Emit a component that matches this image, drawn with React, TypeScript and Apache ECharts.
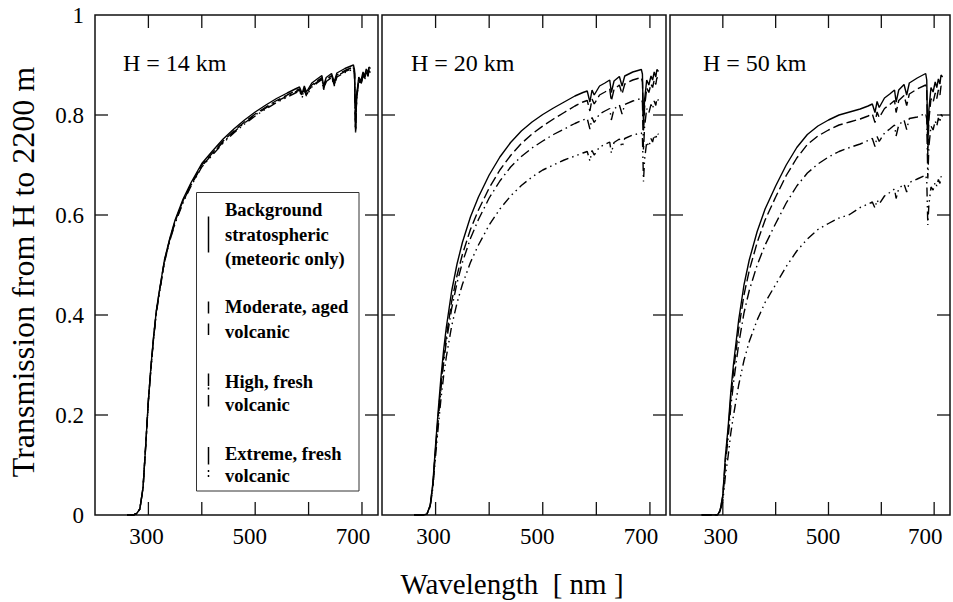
import React, { useEffect, useRef } from "react";
import * as echarts from "echarts";

// Wavelength grid (nm) shared by every curve
const WAVELENGTH = [260, 272, 278, 284, 290, 295, 300, 305, 310, 315, 320, 330, 340, 350, 365, 380, 400, 420, 440, 460, 480, 500, 520, 540, 560, 575, 583, 588, 592, 596, 606, 616, 625, 628, 633, 643, 648, 653, 668, 684, 686, 688, 690, 694, 698, 702, 705, 708, 711, 713, 716];

// H = 14 km
const BG_14 = [0, 0, 0.003, 0.012, 0.055, 0.14, 0.23, 0.3, 0.36, 0.41, 0.445, 0.51, 0.553, 0.59, 0.632, 0.665, 0.703, 0.728, 0.752, 0.772, 0.79, 0.806, 0.82, 0.833, 0.844, 0.852, 0.856, 0.843, 0.858, 0.846, 0.864, 0.872, 0.879, 0.858, 0.875, 0.883, 0.866, 0.884, 0.893, 0.9, 0.89, 0.772, 0.84, 0.876, 0.868, 0.886, 0.878, 0.892, 0.884, 0.896, 0.893];
const MOD_14 = [0, 0, 0.003, 0.012, 0.055, 0.14, 0.229, 0.298, 0.358, 0.408, 0.443, 0.508, 0.551, 0.587, 0.629, 0.662, 0.7, 0.724, 0.748, 0.768, 0.786, 0.802, 0.816, 0.829, 0.84, 0.848, 0.852, 0.839, 0.854, 0.842, 0.86, 0.868, 0.875, 0.854, 0.871, 0.879, 0.862, 0.88, 0.889, 0.896, 0.886, 0.769, 0.836, 0.872, 0.864, 0.882, 0.874, 0.888, 0.88, 0.892, 0.889];
const HIGH_14 = [0, 0, 0.003, 0.012, 0.055, 0.139, 0.229, 0.297, 0.357, 0.407, 0.442, 0.507, 0.55, 0.585, 0.627, 0.66, 0.698, 0.722, 0.746, 0.766, 0.784, 0.8, 0.814, 0.827, 0.838, 0.846, 0.85, 0.837, 0.852, 0.84, 0.858, 0.866, 0.873, 0.852, 0.869, 0.877, 0.86, 0.878, 0.887, 0.894, 0.884, 0.767, 0.834, 0.87, 0.862, 0.88, 0.872, 0.886, 0.878, 0.89, 0.887];
const EXT_14 = [0, 0, 0.003, 0.012, 0.054, 0.138, 0.228, 0.296, 0.356, 0.405, 0.44, 0.505, 0.548, 0.583, 0.625, 0.658, 0.696, 0.72, 0.744, 0.764, 0.782, 0.798, 0.812, 0.825, 0.836, 0.844, 0.848, 0.835, 0.85, 0.838, 0.856, 0.864, 0.871, 0.85, 0.867, 0.875, 0.858, 0.876, 0.885, 0.892, 0.882, 0.765, 0.832, 0.868, 0.86, 0.878, 0.87, 0.884, 0.876, 0.888, 0.885];

// H = 20 km
const BG_20 = [0, 0, 0, 0.002, 0.02, 0.065, 0.14, 0.21, 0.275, 0.33, 0.375, 0.448, 0.502, 0.545, 0.596, 0.636, 0.68, 0.716, 0.745, 0.768, 0.786, 0.801, 0.814, 0.826, 0.838, 0.845, 0.848, 0.826, 0.85, 0.84, 0.858, 0.864, 0.87, 0.845, 0.868, 0.877, 0.858, 0.878, 0.886, 0.891, 0.882, 0.78, 0.83, 0.87, 0.86, 0.878, 0.87, 0.886, 0.876, 0.891, 0.887];
const MOD_20 = [0, 0, 0, 0.002, 0.019, 0.062, 0.133, 0.2, 0.262, 0.314, 0.357, 0.427, 0.479, 0.521, 0.571, 0.61, 0.654, 0.69, 0.719, 0.743, 0.762, 0.778, 0.792, 0.805, 0.818, 0.826, 0.829, 0.808, 0.832, 0.822, 0.84, 0.846, 0.852, 0.828, 0.851, 0.86, 0.842, 0.862, 0.87, 0.875, 0.866, 0.766, 0.815, 0.854, 0.845, 0.862, 0.855, 0.87, 0.861, 0.875, 0.871];
const HIGH_20 = [0, 0, 0, 0.002, 0.018, 0.06, 0.129, 0.193, 0.253, 0.304, 0.346, 0.413, 0.464, 0.505, 0.553, 0.591, 0.634, 0.668, 0.696, 0.717, 0.734, 0.748, 0.761, 0.772, 0.783, 0.79, 0.793, 0.772, 0.795, 0.785, 0.802, 0.808, 0.813, 0.79, 0.812, 0.82, 0.802, 0.821, 0.828, 0.833, 0.825, 0.729, 0.776, 0.813, 0.804, 0.821, 0.813, 0.828, 0.819, 0.833, 0.829];
const EXT_20 = [0, 0, 0, 0.002, 0.017, 0.055, 0.118, 0.177, 0.232, 0.278, 0.316, 0.378, 0.424, 0.461, 0.505, 0.54, 0.58, 0.612, 0.638, 0.659, 0.676, 0.69, 0.7, 0.71, 0.718, 0.724, 0.727, 0.708, 0.729, 0.72, 0.736, 0.741, 0.746, 0.724, 0.745, 0.752, 0.736, 0.753, 0.76, 0.764, 0.756, 0.667, 0.711, 0.746, 0.737, 0.753, 0.746, 0.76, 0.751, 0.764, 0.761];

// H = 50 km
const BG_50 = [0, 0, 0, 0, 0, 0.01, 0.04, 0.12, 0.175, 0.245, 0.3, 0.39, 0.46, 0.51, 0.567, 0.612, 0.658, 0.7, 0.735, 0.761, 0.778, 0.79, 0.8, 0.806, 0.812, 0.818, 0.822, 0.805, 0.827, 0.815, 0.834, 0.842, 0.85, 0.826, 0.85, 0.861, 0.84, 0.864, 0.874, 0.883, 0.87, 0.74, 0.81, 0.855, 0.846, 0.866, 0.855, 0.872, 0.862, 0.88, 0.876];
const MOD_50 = [0, 0, 0, 0, 0, 0.009, 0.038, 0.113, 0.166, 0.233, 0.285, 0.372, 0.44, 0.489, 0.545, 0.59, 0.636, 0.679, 0.714, 0.741, 0.758, 0.77, 0.78, 0.786, 0.792, 0.798, 0.802, 0.785, 0.806, 0.795, 0.813, 0.821, 0.829, 0.805, 0.829, 0.839, 0.819, 0.842, 0.852, 0.86, 0.848, 0.721, 0.79, 0.833, 0.825, 0.844, 0.833, 0.85, 0.84, 0.858, 0.854];
const HIGH_50 = [0, 0, 0, 0, 0, 0.009, 0.035, 0.105, 0.154, 0.215, 0.263, 0.342, 0.404, 0.449, 0.5, 0.54, 0.583, 0.624, 0.658, 0.684, 0.702, 0.716, 0.727, 0.735, 0.742, 0.749, 0.753, 0.737, 0.757, 0.747, 0.764, 0.772, 0.78, 0.758, 0.78, 0.79, 0.771, 0.793, 0.796, 0.803, 0.792, 0.673, 0.737, 0.778, 0.77, 0.788, 0.778, 0.794, 0.785, 0.801, 0.797];
const EXT_50 = [0, 0, 0, 0, 0, 0.007, 0.027, 0.08, 0.117, 0.163, 0.198, 0.26, 0.309, 0.347, 0.39, 0.425, 0.461, 0.497, 0.528, 0.552, 0.571, 0.583, 0.594, 0.601, 0.615, 0.622, 0.626, 0.614, 0.63, 0.622, 0.638, 0.645, 0.652, 0.633, 0.653, 0.662, 0.646, 0.665, 0.672, 0.68, 0.669, 0.58, 0.62, 0.656, 0.65, 0.666, 0.658, 0.671, 0.663, 0.677, 0.674];

const X_MIN = 200;
const X_MAX = 730;
const X_TICKS = [300, 400, 500, 600, 700];
const Y_TICKS = [0.2, 0.4, 0.6, 0.8];
const X_TICK_LABELS = [300, 500, 700];
const Y_TICK_LABELS = ["0", "0.2", "0.4", "0.6", "0.8", "1"];
const PANEL_TITLES = ["H = 14 km", "H = 20 km", "H = 50 km"];
const LEGEND_LINES = [
  ["Background", "stratospheric", "(meteoric only)"],
  ["Moderate, aged", "volcanic"],
  ["High, fresh", "volcanic"],
  ["Extreme, fresh", "volcanic"],
];
const X_TITLE = "Wavelength  [ nm ]";
const Y_TITLE = "Transmission from H to 2200 m";

const PANEL_SERIES = [
  [BG_14, MOD_14, HIGH_14, EXT_14],
  [BG_20, MOD_20, HIGH_20, EXT_20],
  [BG_50, MOD_50, HIGH_50, EXT_50],
];

const FONT = "'Liberation Serif', 'Times New Roman', Times, serif";
const INK = "#111";
const LINE_TYPES: any[] = ["solid", [10, 4], [10, 4, 1.5, 4], [9, 4, 1.5, 4, 1.5, 4]];
const TICK_LEN = 13;

function buildOption() {
  const gridBoxes = [
    { left: 95, top: 15, width: 283, height: 500 },
    { left: 382, top: 15, width: 284, height: 500 },
    { left: 670, top: 15, width: 283, height: 500 },
  ];
  const grid = gridBoxes.map((g) => ({
    ...g,
    show: true,
    borderColor: INK,
    borderWidth: 1.5,
    backgroundColor: "transparent",
    containLabel: false,
  }));

  const labelShift: Record<number, number> = { 300: 4, 500: 11, 700: 18 };
  const rich: any = {};
  X_TICK_LABELS.forEach((v) => {
    rich["t" + v] = {
      fontFamily: FONT,
      fontSize: 23,
      color: "#000",
      padding: [0, labelShift[v] || 0, 0, 0],
    };
  });

  const xAxis: any[] = [];
  const yAxis: any[] = [];
  for (let p = 0; p < 3; p++) {
    xAxis.push({
      type: "value",
      gridIndex: p,
      position: "bottom",
      min: X_MIN,
      max: X_MAX,
      interval: 100,
      axisLine: { show: false },
      splitLine: { show: false },
      axisTick: { show: false },
      axisLabel: {
        show: true,
        margin: 10,
        fontFamily: FONT,
        fontSize: 23,
        color: "#000",
        formatter: (v: number) => (X_TICK_LABELS.indexOf(v) >= 0 ? `{t${v}|${v}}` : ""),
        rich,
      },
    });
    yAxis.push({
      type: "value",
      gridIndex: p,
      position: "left",
      min: 0,
      max: 1,
      interval: 0.2,
      axisLine: { show: false },
      splitLine: { show: false },
      axisTick: { show: false },
      axisLabel: {
        show: p === 0,
        margin: 11,
        fontFamily: FONT,
        fontSize: 23,
        color: "#000",
        formatter: (v: number) => Y_TICK_LABELS[Math.round(v * 5)] ?? "",
      },
    });
  }

  const series: any[] = [];
  PANEL_SERIES.forEach((set, p) => {
    set.forEach((vals, k) => {
      series.push({
        type: "line",
        name: LEGEND_LINES[k][0] + " " + PANEL_TITLES[p],
        xAxisIndex: p,
        yAxisIndex: p,
        data: WAVELENGTH.map((w, i) => [w, vals[i]]),
        symbol: "none",
        showSymbol: false,
        silent: true,
        clip: true,
        lineStyle: { color: "#000", width: 1.4, type: LINE_TYPES[k] },
      });
    });
    // inward tick marks on all four sides, placed through the axis scales
    const tickData = X_TICKS.map((v) => [0, v]).concat(Y_TICKS.map((v) => [1, v]));
    series.push({
      type: "custom",
      xAxisIndex: p,
      yAxisIndex: p,
      silent: true,
      data: tickData,
      renderItem: (_params: any, api: any) => {
        const kind = api.value(0);
        const v = api.value(1);
        const st = { stroke: INK, lineWidth: 1.3 };
        if (kind === 0) {
          const b = api.coord([v, 0]);
          const t = api.coord([v, 1]);
          return {
            type: "group",
            children: [
              { type: "line", shape: { x1: b[0], y1: b[1], x2: b[0], y2: b[1] - TICK_LEN }, style: st },
              { type: "line", shape: { x1: t[0], y1: t[1], x2: t[0], y2: t[1] + TICK_LEN }, style: st },
            ],
          };
        }
        const l = api.coord([X_MIN, v]);
        const r = api.coord([X_MAX, v]);
        return {
          type: "group",
          children: [
            { type: "line", shape: { x1: l[0], y1: l[1], x2: l[0] + TICK_LEN, y2: l[1] }, style: st },
            { type: "line", shape: { x1: r[0], y1: r[1], x2: r[0] - TICK_LEN, y2: r[1] }, style: st },
          ],
        };
      },
    });
  });

  const titleX = [123, 411, 703];
  const elements: any[] = [];
  PANEL_TITLES.forEach((t, p) => {
    elements.push({
      type: "text",
      x: titleX[p],
      y: 63,
      style: { text: t, fontFamily: FONT, fontSize: 24, fill: "#000", align: "left", verticalAlign: "middle" },
    });
  });

  // legend box
  elements.push({
    type: "rect",
    shape: { x: 196.5, y: 192.5, width: 162.5, height: 298.5 },
    style: { fill: "#fff", stroke: "#333", lineWidth: 1 },
    z: 10,
  });
  const baselines = [
    [216, 241, 265],
    [313, 338],
    [388, 411],
    [460, 482],
  ];
  LEGEND_LINES.forEach((lines, k) => {
    lines.forEach((ln, j) => {
      elements.push({
        type: "text",
        x: 225,
        y: baselines[k][j] - 6,
        z: 11,
        style: {
          text: ln,
          fontFamily: FONT,
          fontSize: 18.5,
          fontWeight: "bold",
          fill: "#000",
          align: "left",
          verticalAlign: "middle",
        },
      });
    });
  });
  const mx = 208.5;
  const markerSegs = [
    [[216.5, 252.5]],
    [[301.5, 313.5], [323.5, 335]],
    [[373.5, 386], [387.5, 389.5], [395, 406.5]],
    [[447, 464.5], [470, 472], [475, 477]],
  ];
  markerSegs.forEach((segs) =>
    segs.forEach(([a, b]) =>
      elements.push({
        type: "line",
        z: 11,
        shape: { x1: mx, y1: a, x2: mx, y2: b },
        style: { stroke: "#000", lineWidth: 1.5 },
      })
    )
  );

  // axis titles
  elements.push({
    type: "text",
    x: 512,
    y: 584,
    style: { text: X_TITLE, fontFamily: FONT, fontSize: 29, fill: "#000", align: "center", verticalAlign: "middle" },
  });
  elements.push({
    type: "text",
    x: 22.5,
    y: 272,
    rotation: Math.PI / 2,
    style: { text: Y_TITLE, fontFamily: FONT, fontSize: 32, fill: "#000", align: "center", verticalAlign: "middle" },
  });

  return {
    animation: false,
    backgroundColor: "#fff",
    grid,
    xAxis,
    yAxis,
    series,
    graphic: { elements },
  };
}

export default function App() {
  const ref = useRef<HTMLDivElement>(null);
  useEffect(() => {
    if (!ref.current) return;
    const chart = echarts.init(ref.current, undefined, { renderer: "svg" });
    chart.setOption(buildOption() as any);
    return () => chart.dispose();
  }, []);
  return (
    <div
      ref={ref}
      style={{ position: "absolute", left: 0, top: 0, width: 953, height: 602, background: "#fff" }}
    />
  );
}
